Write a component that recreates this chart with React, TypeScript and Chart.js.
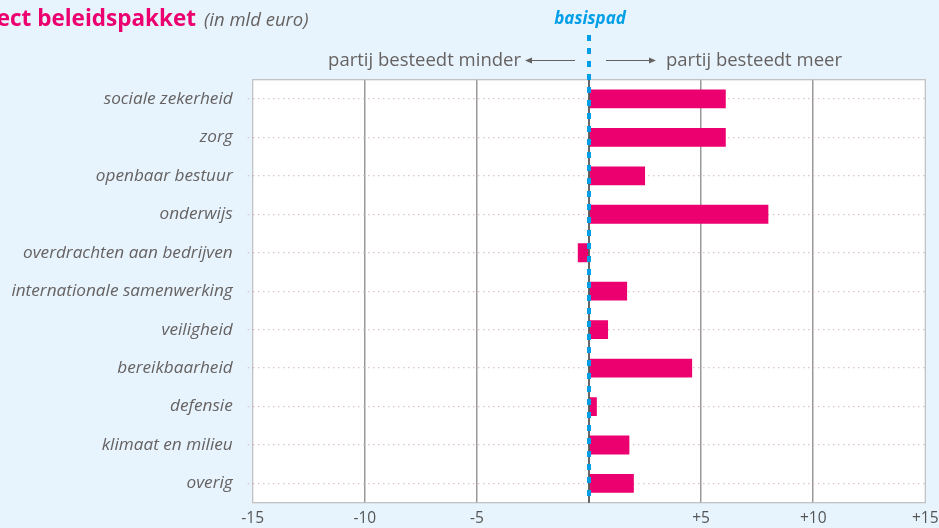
import React, { useEffect, useRef } from "react";
import { Chart, registerables } from "chart.js";

Chart.register(...registerables);

const categories = [
  "sociale zekerheid",
  "zorg",
  "openbaar bestuur",
  "onderwijs",
  "overdrachten aan bedrijven",
  "internationale samenwerking",
  "veiligheid",
  "bereikbaarheid",
  "defensie",
  "klimaat en milieu",
  "overig",
];
const values = [6.1, 6.1, 2.5, 8.0, -0.5, 1.7, 0.85, 4.6, 0.35, 1.8, 2.0];
const tickValues = [-15, -10, -5, 0, 5, 10, 15];
const tickLabels = ["-15", "-10", "-5", "", "+5", "+10", "+15"];

const titleMain = "Effect beleidspakket";
const titleSub = "(in mld euro)";
const baseLabel = "basispad";
const leftNote = "partij besteedt minder";
const rightNote = "partij besteedt meer";

const FONT = "'Open Sans', sans-serif";
const PINK = "#ec006f";
const BLUE = "#009fe8";
const GREY = "#666262";
const BG = "#e7f4fd";

export default function App() {
  const ref = useRef<HTMLCanvasElement | null>(null);

  useEffect(() => {
    document.body.style.margin = "0";
    const canvas = ref.current;
    if (!canvas) return;

    const decor = {
      id: "decor",
      beforeDraw(chart: any) {
        const { ctx, chartArea: a } = chart;
        ctx.save();
        ctx.fillStyle = BG;
        ctx.fillRect(0, 0, chart.width, chart.height);
        ctx.fillStyle = "#ffffff";
        ctx.fillRect(a.left, a.top, a.right - a.left, a.bottom - a.top);
        ctx.restore();
      },
      afterDraw(chart: any) {
        const { ctx, chartArea: a } = chart;
        const xs = chart.scales.x;
        const x0 = xs.getPixelForValue(0);
        ctx.save();
        // box border
        ctx.strokeStyle = "#bdbdbd";
        ctx.lineWidth = 1.2;
        ctx.strokeRect(a.left, a.top, a.right - a.left, a.bottom - a.top);
        // zero line
        ctx.strokeStyle = "#333";
        ctx.lineWidth = 1.5;
        ctx.beginPath();
        ctx.moveTo(x0, a.top);
        ctx.lineTo(x0, a.bottom);
        ctx.stroke();
        // basispad dashed
        ctx.strokeStyle = BLUE;
        ctx.lineWidth = 4;
        ctx.setLineDash([6, 7]);
        ctx.beginPath();
        ctx.moveTo(x0, 35);
        ctx.lineTo(x0, a.bottom);
        ctx.stroke();
        ctx.setLineDash([]);

        // title
        ctx.textBaseline = "alphabetic";
        ctx.fillStyle = PINK;
        ctx.font = `bold 22.5px ${FONT}`;
        ctx.textAlign = "right";
        ctx.fillText(titleMain, 196, 26);
        ctx.fillStyle = GREY;
        ctx.font = `italic 18.5px ${FONT}`;
        ctx.textAlign = "left";
        ctx.fillText(titleSub, 204, 26);

        // basispad label
        ctx.fillStyle = BLUE;
        ctx.font = `italic bold 17px ${FONT}`;
        ctx.textAlign = "center";
        ctx.fillText(baseLabel, x0 + 1, 24);

        // notes
        ctx.fillStyle = GREY;
        ctx.font = `18.5px ${FONT}`;
        ctx.textAlign = "right";
        ctx.fillText(leftNote, 521, 66);
        ctx.textAlign = "left";
        ctx.fillText(rightNote, 666, 66);

        // arrows
        ctx.strokeStyle = GREY;
        ctx.fillStyle = GREY;
        ctx.lineWidth = 1;
        const ay = 60.5;
        ctx.beginPath();
        ctx.moveTo(575, ay);
        ctx.lineTo(530, ay);
        ctx.moveTo(606, ay);
        ctx.lineTo(651, ay);
        ctx.stroke();
        ctx.beginPath();
        ctx.moveTo(525, ay);
        ctx.lineTo(532, ay - 3);
        ctx.lineTo(532, ay + 3);
        ctx.closePath();
        ctx.fill();
        ctx.beginPath();
        ctx.moveTo(656, ay);
        ctx.lineTo(649, ay - 3);
        ctx.lineTo(649, ay + 3);
        ctx.closePath();
        ctx.fill();
        ctx.restore();
      },
    };

    const chart = new Chart(canvas, {
      type: "bar",
      data: {
        labels: categories,
        datasets: [
          {
            data: values,
            backgroundColor: PINK,
            borderWidth: 0,
            barPercentage: 0.49,
            categoryPercentage: 1,
          },
        ],
      },
      options: {
        indexAxis: "y",
        animation: false,
        responsive: false,
        events: [],
        layout: { padding: { left: 0, top: 79.7, right: 13.7, bottom: 0 } },
        plugins: {
          legend: { display: false },
          tooltip: { enabled: false },
          title: { display: false },
        },
        scales: {
          x: {
            type: "linear",
            min: -15,
            max: 15,
            afterBuildTicks: (scale: any) => {
              scale.ticks = tickValues.map((v) => ({ value: v }));
            },
            afterFit: (scale: any) => {
              scale.height = 528 - 504.3;
              scale.paddingLeft = 0;
              scale.paddingRight = 0;
            },
            ticks: {
              callback: (v: any) => tickLabels[tickValues.indexOf(Number(v))] ?? "",
              color: "#555",
              font: { family: FONT, size: 15.5 },
              padding: 7,
              maxRotation: 0,
              autoSkip: false,
            },
            grid: {
              drawTicks: false,
              color: (c: any) =>
                c.tick && (c.tick.value === -15 || c.tick.value === 15 || c.tick.value === 0)
                  ? "rgba(0,0,0,0)"
                  : "#999",
              lineWidth: 1.5,
            },
            border: { display: false },
          },
          y: {
            type: "category",
            afterFit: (scale: any) => {
              scale.width = 252.7;
            },
            ticks: {
              color: GREY,
              font: { family: FONT, size: 17.2, style: "italic" },
              padding: 15,
              autoSkip: false,
            },
            grid: {
              offset: false,
              color: "#d9c5cd",
              lineWidth: 1.3,
              tickLength: 5,
              tickColor: "#d9c5cd",
              tickBorderDash: [1.5, 3.5],
            },
            border: { display: false, dash: [1.5, 3.5] },
          },
        },
      },
      plugins: [decor],
    } as any);

    (chart.options.scales as any).y.grid.borderDash = [1.5, 3.5];
    chart.update();

    return () => chart.destroy();
  }, []);

  return (
    <div style={{ position: "absolute", left: 0, top: 0, width: 939, height: 528 }}>
      <canvas ref={ref} width={939} height={528} style={{ display: "block" }} />
    </div>
  );
}
